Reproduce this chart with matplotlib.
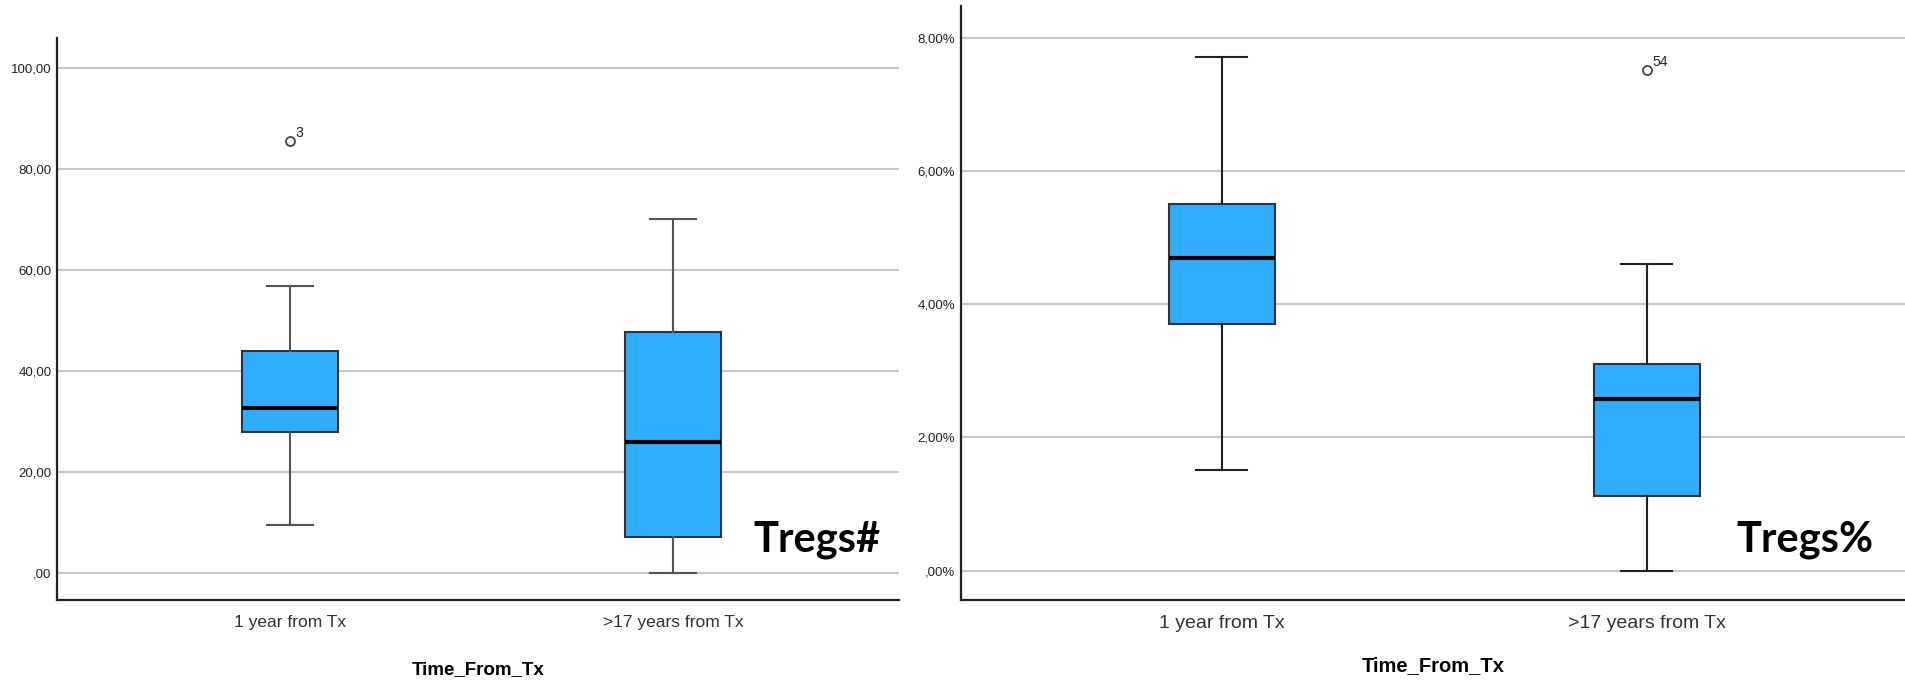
import matplotlib
matplotlib.use("Agg")
import matplotlib.pyplot as plt
from matplotlib import font_manager

# ---------------- data ----------------
categories = ["1 year from Tx", ">17 years from Tx"]

# Tregs# (absolute)
abs_whislo = [9.4, 0.0]
abs_q1 = [27.8, 7.1]
abs_med = [32.7, 26.0]
abs_q3 = [44.0, 47.6]
abs_whishi = [56.8, 70.0]
abs_fliers = [[85.5], []]
abs_flier_ids = [["3"], []]
abs_yticks = [0, 20, 40, 60, 80, 100]
abs_yticklabels = [",00", "20,00", "40,00", "60,00", "80,00", "100,00"]

# Tregs% (percent)
pct_whislo = [1.51, 0.0]
pct_q1 = [3.71, 1.12]
pct_med = [4.70, 2.57]
pct_q3 = [5.51, 3.10]
pct_whishi = [7.71, 4.61]
pct_fliers = [[], [7.51]]
pct_flier_ids = [[], ["54"]]
pct_yticks = [0, 2, 4, 6, 8]
pct_yticklabels = [",00%", "2,00%", "4,00%", "6,00%", "8,00%"]

xlabel = "Time_From_Tx"
panel_titles = ["Tregs#", "Tregs%"]

# ---------------- style ----------------
avail = {f.name for f in font_manager.fontManager.ttflist}
narrow = "Liberation Sans Narrow" if "Liberation Sans Narrow" in avail else "Liberation Sans"
big_font = "Lato" if "Lato" in avail else "DejaVu Sans"

BOX_FILL = "#31adff"
EDGE = "#333333"
GRID = "#c8c8c8"

fig = plt.figure(figsize=(19.05, 6.81), dpi=100)
ax1 = fig.add_axes([0.0299, 0.1187, 0.4420, 0.8255])
ax2 = fig.add_axes([0.5043, 0.1187, 0.4957, 0.8718])


def make_stats(wl, q1, med, q3, wh, fl):
    out = []
    for i in range(len(med)):
        out.append(dict(whislo=wl[i], q1=q1[i], med=med[i], q3=q3[i],
                        whishi=wh[i], fliers=fl[i]))
    return out


def draw(ax, stats, ids, yticks, yticklabels, ylim, xlim, label_fs,
         ytick_fs, xlabel_fs, xlabel_pad, whisk_color, title, title_xy, id_offset):
    positions = list(range(len(stats)))
    ax.bxp(stats, positions=positions, widths=0.25, patch_artist=True,
           boxprops=dict(facecolor=BOX_FILL, edgecolor=EDGE, linewidth=1.5),
           medianprops=dict(color="black", linewidth=3),
           whiskerprops=dict(color=whisk_color, linewidth=1.5),
           capprops=dict(color=whisk_color, linewidth=1.5),
           capwidths=0.12,
           flierprops=dict(marker="o", markerfacecolor="white",
                           markeredgecolor="#444444", markersize=6.5,
                           markeredgewidth=1.3, linestyle="none"),
           zorder=3)
    for i, s in enumerate(stats):
        for v, t in zip(s["fliers"], ids[i]):
            ax.annotate(t, xy=(positions[i], v), xytext=id_offset,
                        textcoords="offset points", fontsize=10,
                        family=narrow, color="#222222", ha="left", va="bottom")
    ax.set_ylim(*ylim)
    ax.set_xlim(*xlim)
    ax.set_yticks(yticks)
    ax.set_yticklabels(yticklabels, fontsize=ytick_fs, family="Liberation Sans",
                       color="#222222")
    ax.set_xticks(positions)
    ax.set_xticklabels(categories, fontsize=label_fs, family=narrow,
                       color="#333333")
    ax.tick_params(axis="both", length=0)
    ax.tick_params(axis="y", pad=4)
    ax.tick_params(axis="x", pad=11)
    ax.yaxis.grid(True, color=GRID, linewidth=1.5, zorder=0)
    ax.set_axisbelow(True)
    for side in ("top", "right"):
        ax.spines[side].set_visible(False)
    for side in ("left", "bottom"):
        ax.spines[side].set_linewidth(1.6)
        ax.spines[side].set_color("#222222")
    ax.set_xlabel(xlabel, fontsize=xlabel_fs, family="Liberation Sans",
                  fontweight="bold", labelpad=xlabel_pad, color="black")
    ax.text(title_xy[0], title_xy[1], title, transform=ax.transAxes,
            fontsize=30, family=big_font, fontweight="bold", color="black",
            ha="left", va="baseline")


stats_abs = make_stats(abs_whislo, abs_q1, abs_med, abs_q3, abs_whishi, abs_fliers)
stats_pct = make_stats(pct_whislo, pct_q1, pct_med, pct_q3, pct_whishi, pct_fliers)

draw(ax1, stats_abs, abs_flier_ids, abs_yticks, abs_yticklabels,
     (-5.4, 105.9), (-0.608, 1.59), 12.5, 9.5, 13.5, 22, "#555555",
     panel_titles[0], ((753 - 57) / 842, (600.2 - 552) / 562.2), (4, 1))
draw(ax2, stats_pct, pct_flier_ids, pct_yticks, pct_yticklabels,
     (-0.443, 8.47), (-0.614, 1.607), 14, 9.5, 14.5, 17, "#222222",
     panel_titles[1], ((1736 - 961) / 944, (600.2 - 552) / 593.7), (4, 1))

fig.savefig("out.png", dpi=100, facecolor="white")
